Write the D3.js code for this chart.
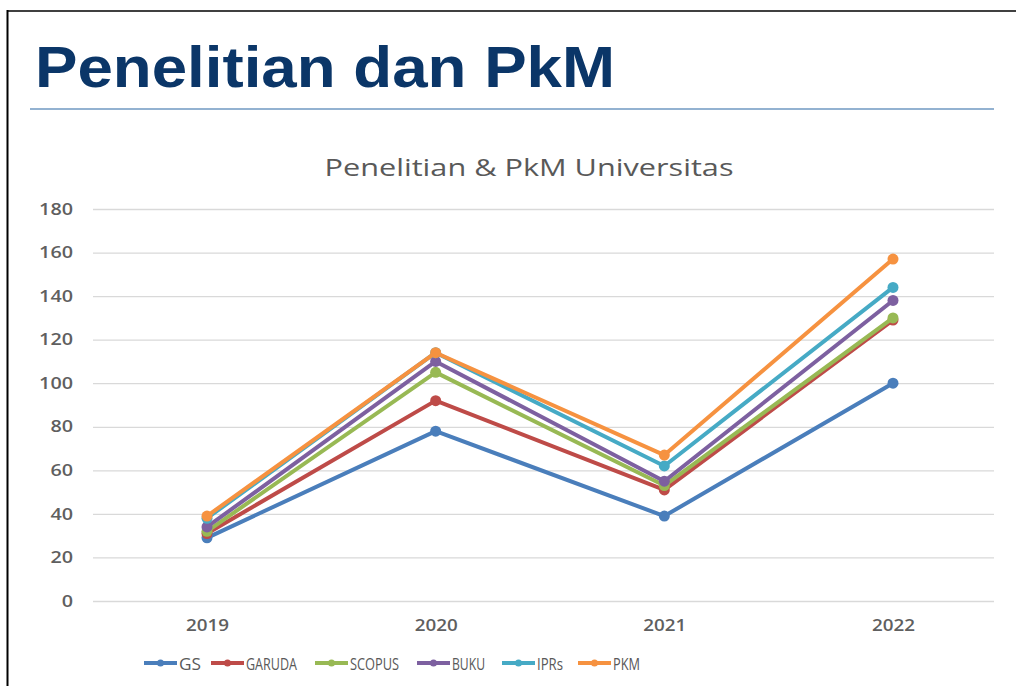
<!DOCTYPE html>
<html>
<head>
<meta charset="utf-8">
<script src="https://cdn.jsdelivr.net/npm/d3@7"></script>
<style>
  html, body { margin: 0; padding: 0; background: #fff; }
  svg { display: block; }
</style>
</head>
<body>
<svg id="chart" width="1016" height="686"></svg>
<script>
const years = ["2019", "2020", "2021", "2022"];
const seriesNames = ["GS", "GARUDA", "SCOPUS", "BUKU", "IPRs", "PKM"];
const GS = [29, 78, 39, 100];
const GARUDA = [31, 92, 51, 129];
const SCOPUS = [32, 105, 53, 130];
const BUKU = [34, 110, 55, 138];
const IPRs = [38, 114, 62, 144];
const PKM = [39, 114, 67, 157];
const yTicks = [0, 20, 40, 60, 80, 100, 120, 140, 160, 180];
const colors = ["#4a7ebb", "#be4b48", "#98b954", "#7d60a0", "#46aac5", "#f69240"];

const seriesValues = [GS, GARUDA, SCOPUS, BUKU, IPRs, PKM];
const series = seriesNames.map((n, i) => ({ name: n, values: seriesValues[i], color: colors[i] }));

const svg = d3.select("#chart");

// frame lines
svg.append("line").attr("x1", 7).attr("x2", 1016).attr("y1", 11).attr("y2", 11)
  .attr("stroke", "#000").attr("stroke-width", 1.5);
svg.append("line").attr("x1", 7.5).attr("x2", 7.5).attr("y1", 10).attr("y2", 686)
  .attr("stroke", "#000").attr("stroke-width", 2);

// heading
svg.append("text").attr("x", 35).attr("y", 87)
  .attr("font-family", "Liberation Sans, Arial, sans-serif")
  .attr("font-weight", "bold").attr("font-size", 58)
  .attr("fill", "#0b3668")
  .attr("textLength", 580).attr("lengthAdjust", "spacingAndGlyphs")
  .text("Penelitian dan PkM");
svg.append("line").attr("x1", 30).attr("x2", 994).attr("y1", 109).attr("y2", 109)
  .attr("stroke", "#6f99c2").attr("stroke-width", 1.5);

// chart title
svg.append("text").attr("x", 529).attr("y", 176).attr("text-anchor", "middle")
  .attr("font-family", "Open Sans, sans-serif").attr("font-size", 24)
  .attr("fill", "#595959")
  .attr("textLength", 409).attr("lengthAdjust", "spacingAndGlyphs")
  .text("Penelitian & PkM Universitas");

const x = d3.scalePoint().domain(years).range([207, 893]);
const y = d3.scaleLinear().domain([0, 180]).range([601, 209]);

// gridlines
const grid = svg.append("g").attr("transform", "translate(93,0)")
  .call(d3.axisLeft(y).tickValues(yTicks).tickSize(-901).tickFormat(""));
grid.select(".domain").remove();
grid.selectAll(".tick line").attr("stroke", "#d9d9d9").attr("stroke-width", 1.3);

// y labels
const yAx = svg.append("g").attr("transform", "translate(73,0)")
  .call(d3.axisLeft(y).tickValues(yTicks).tickSize(0).tickPadding(0));
yAx.select(".domain").remove();
yAx.selectAll("text").attr("font-family", "Open Sans, sans-serif").attr("font-size", 16)
  .attr("fill", "#5f5f5f").attr("font-weight", "600")
  .attr("textLength", d => String(d).length * 11.3).attr("lengthAdjust", "spacingAndGlyphs");

// x labels
const xAx = svg.append("g").attr("transform", "translate(0,614)")
  .call(d3.axisBottom(x).tickSize(0).tickPadding(6));
xAx.select(".domain").remove();
xAx.selectAll("text").attr("font-family", "Open Sans, sans-serif").attr("font-size", 16)
  .attr("fill", "#5f5f5f").attr("font-weight", "600")
  .attr("textLength", 43).attr("lengthAdjust", "spacingAndGlyphs");

// lines
const line = d3.line().x((d, i) => x(years[i])).y(d => y(d));
const sg = svg.append("g").selectAll("g").data(series).join("g");
sg.append("path").attr("d", d => line(d.values)).attr("fill", "none")
  .attr("stroke", d => d.color).attr("stroke-width", 4)
  .attr("stroke-linejoin", "round").attr("stroke-linecap", "round");
sg.selectAll("circle").data(d => d.values.map((v, i) => ({ v, i, color: d.color })))
  .join("circle").attr("cx", d => x(years[d.i])).attr("cy", d => y(d.v))
  .attr("r", 5.5).attr("fill", d => d.color);

// legend
const legendX = [144, 211, 315, 417, 502, 578];
const lg = svg.append("g").selectAll("g").data(series).join("g")
  .attr("transform", (d, i) => `translate(${legendX[i]},663)`);
lg.append("line").attr("x1", 0).attr("x2", 33).attr("stroke", d => d.color).attr("stroke-width", 4);
lg.append("circle").attr("cx", 16.5).attr("r", 3.5).attr("fill", d => d.color);
lg.append("text").attr("x", 35).attr("y", 6.5)
  .attr("font-family", "Open Sans, sans-serif").attr("font-size", 17)
  .attr("fill", "#595959")
  .attr("textLength", (d, i) => [22, 51, 49, 33, 26, 27][i])
  .attr("lengthAdjust", "spacingAndGlyphs")
  .text(d => d.name);
</script>
</body>
</html>
